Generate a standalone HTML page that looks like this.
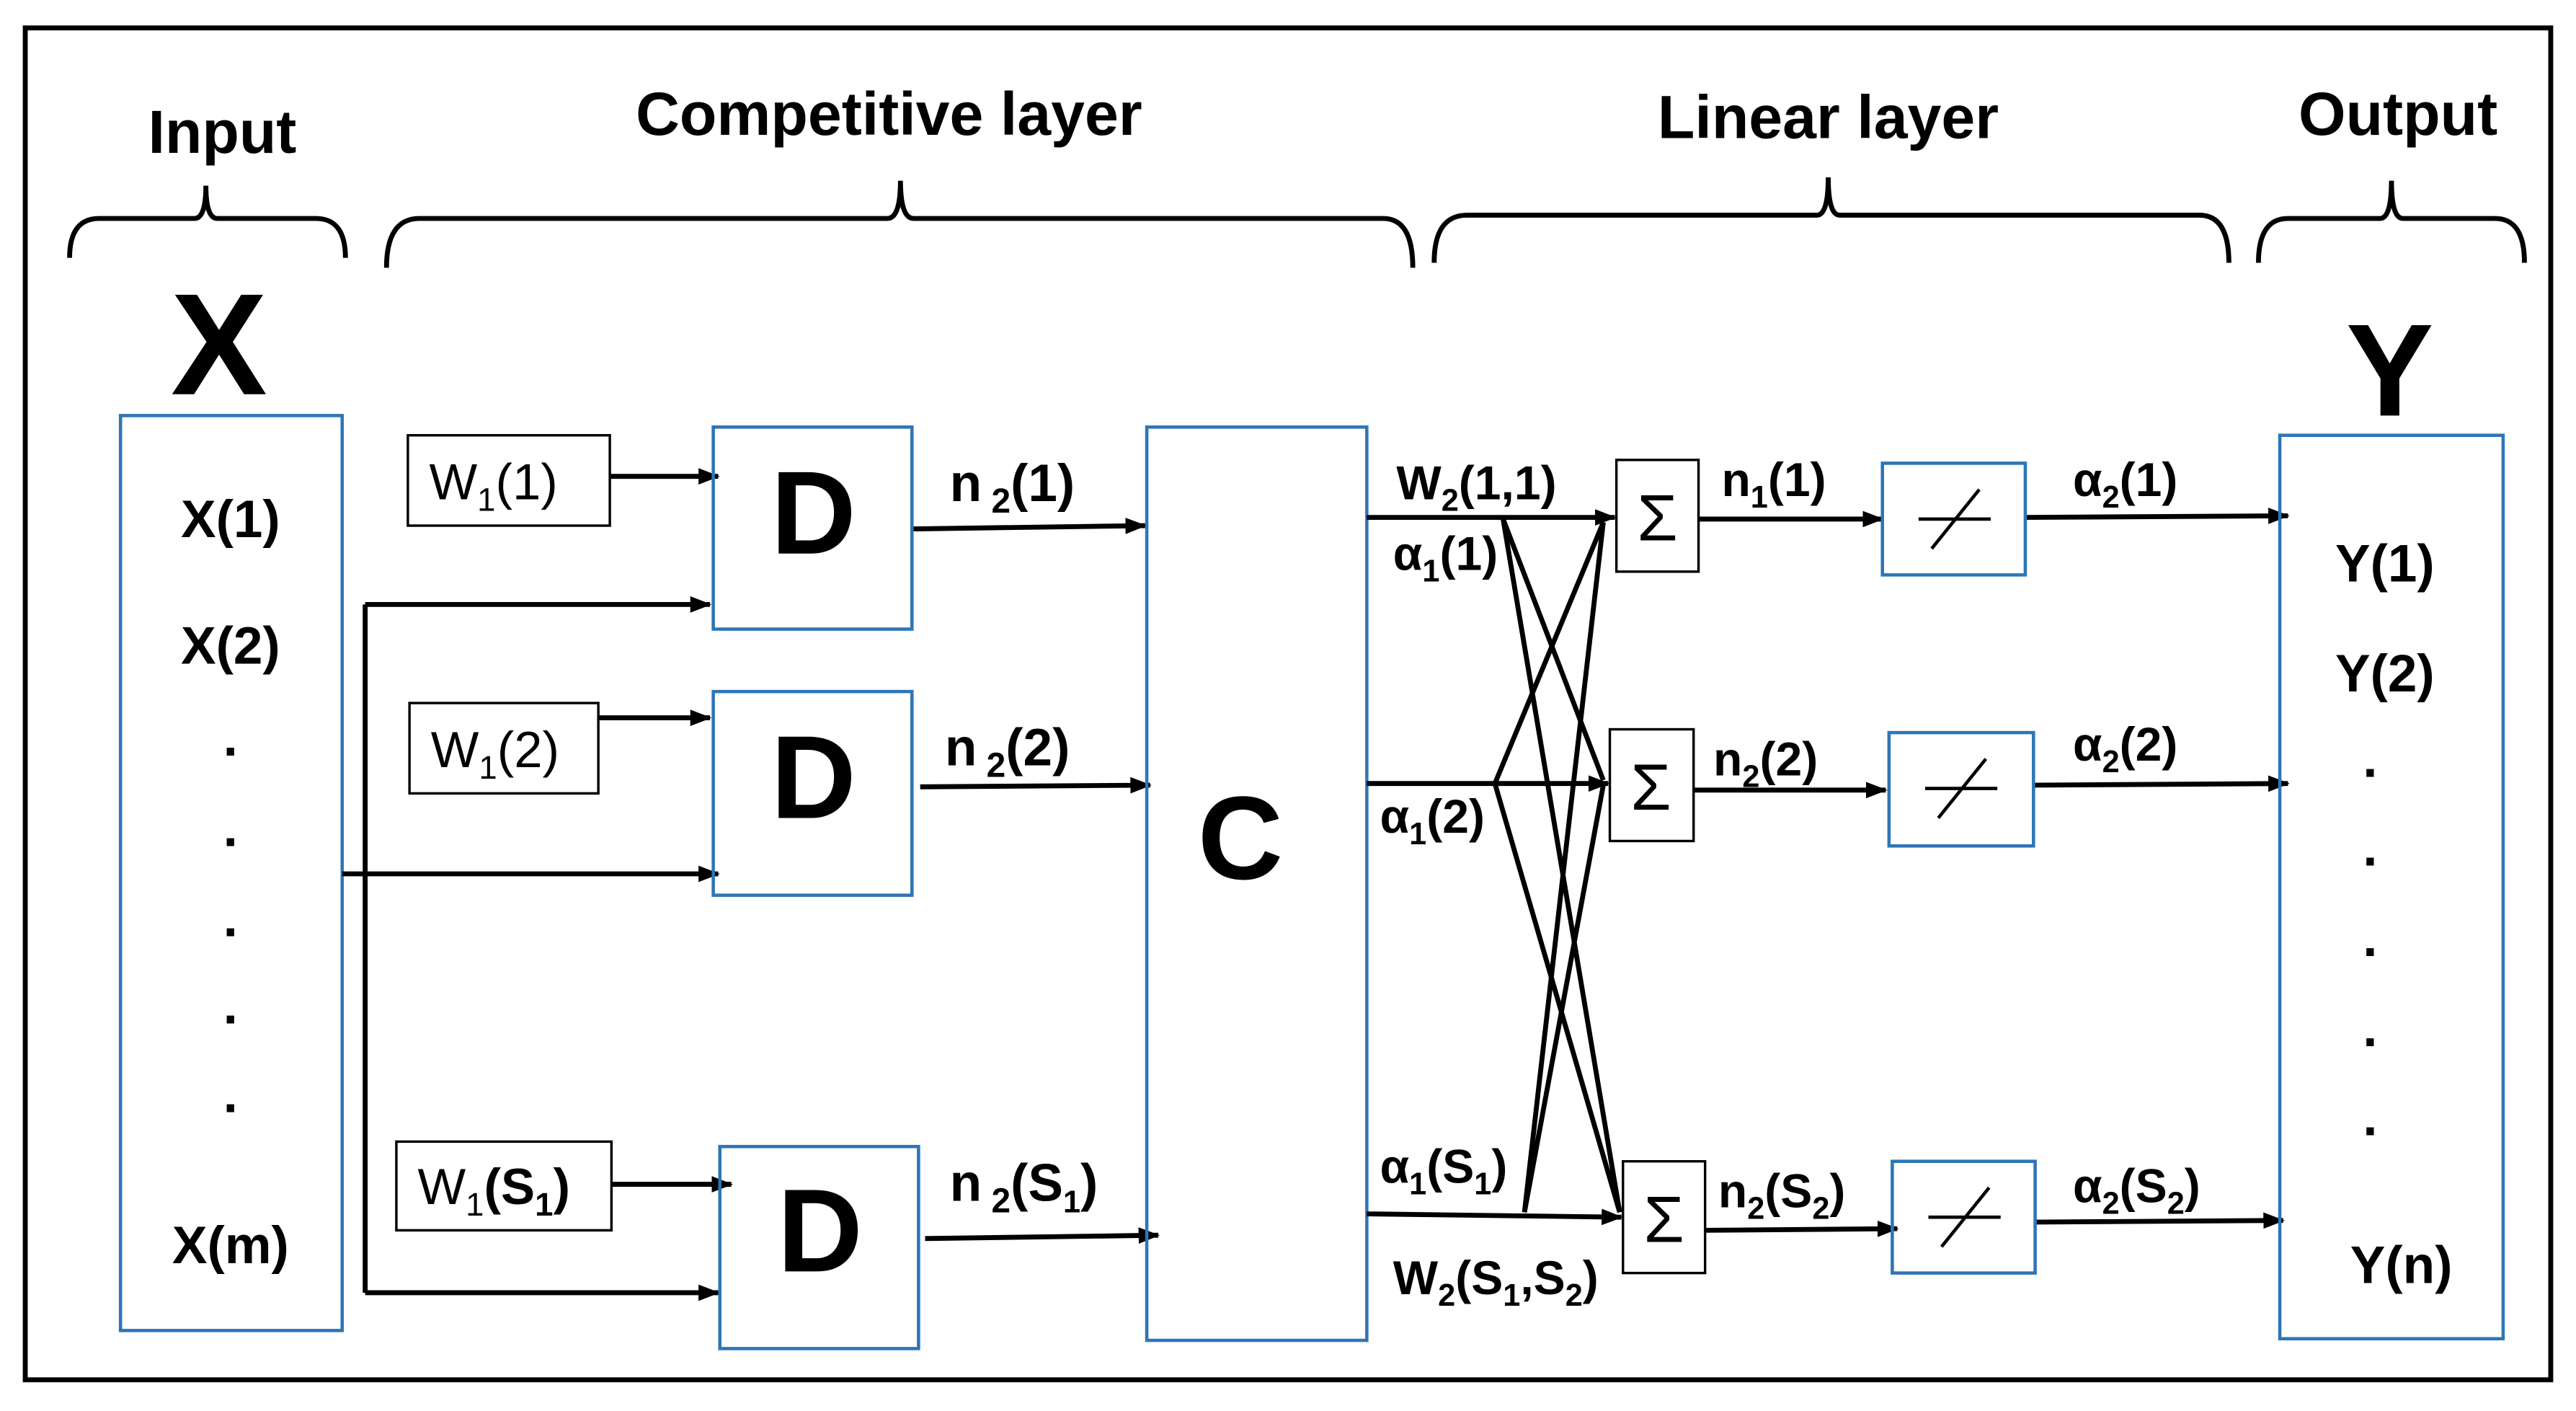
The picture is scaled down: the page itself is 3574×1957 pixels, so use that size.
<!DOCTYPE html>
<html><head><meta charset="utf-8"><style>
html,body{margin:0;padding:0;background:#fff;}
svg{display:block;}
text{font-family:"Liberation Sans",sans-serif;fill:#000;}
.b{font-weight:bold;}
</style></head><body>
<svg width="3574" height="1957" viewBox="0 0 1568 859" xmlns="http://www.w3.org/2000/svg">
<defs><marker id="a" markerWidth="13" markerHeight="10" refX="12" refY="5" orient="auto" markerUnits="userSpaceOnUse"><path d="M0,0 L13,5 L0,10 z" fill="#000"/></marker></defs>
<rect x="0" y="0" width="1568" height="859" fill="#fff"/>
<rect x="15" y="17" width="1538" height="823" fill="none" stroke="#000" stroke-width="3"/>
<g font-size="37" text-anchor="middle">
<text x="135" y="93" class="b">Input</text>
<text x="541" y="82" class="b">Competitive layer</text>
<text x="1113" y="84" class="b">Linear layer</text>
<text x="1460" y="82" class="b">Output</text>
</g>
<g fill="none" stroke="#000" stroke-width="3">
<path d="M42,157 Q42,133 60,133 L118,133 Q125,133 125,113 Q125,133 132,133 L192,133 Q210,133 210,157"/>
<path d="M235,163 Q235,133 255,133 L540,133 Q548,133 548,110 Q548,133 556,133 L842,133 Q860,133 860,163"/>
<path d="M873,160 Q873,131 893,131 L1106,131 Q1113,131 1113,108 Q1113,131 1120,131 L1339,131 Q1357,131 1357,160"/>
<path d="M1375,160 Q1375,133 1393,133 L1449,133 Q1456,133 1456,110 Q1456,133 1463,133 L1519,133 Q1537,133 1537,160"/>
</g>
<text x="133" y="240" font-size="88" text-anchor="middle" class="b">X</text>
<rect x="73" y="253" width="135" height="557" fill="none" stroke="#2e75b6" stroke-width="2"/>
<g font-size="32" text-anchor="middle">
<text x="140" y="327" class="b">X(1)</text>
<text x="140" y="404" class="b">X(2)</text>
<text x="140" y="460" class="b">.</text><text x="140" y="515" class="b">.</text><text x="140" y="570" class="b">.</text><text x="140" y="623" class="b">.</text><text x="140" y="677" class="b">.</text>
<text x="140" y="769" class="b">X(m)</text>
</g>
<g stroke="#000" stroke-width="3" fill="none">
<line x1="222" y1="368" x2="222" y2="787"/>
<line x1="222" y1="368" x2="432" y2="368" marker-end="url(#a)"/>
<line x1="208" y1="532" x2="437" y2="532" marker-end="url(#a)"/>
<line x1="222" y1="787" x2="437" y2="787" marker-end="url(#a)"/>
<line x1="371" y1="290" x2="437" y2="290" marker-end="url(#a)"/>
<line x1="364" y1="437" x2="432" y2="437" marker-end="url(#a)"/>
<line x1="372" y1="721" x2="445" y2="721" marker-end="url(#a)"/>
<line x1="555" y1="322" x2="697" y2="320" marker-end="url(#a)"/>
<line x1="560" y1="479" x2="700" y2="478" marker-end="url(#a)"/>
<line x1="563" y1="754" x2="705" y2="752" marker-end="url(#a)"/>
</g>
<g fill="none" stroke="#000" stroke-width="1.5">
<rect x="248" y="265" width="123" height="55"/>
<rect x="249" y="428" width="115" height="55"/>
<rect x="241" y="695" width="131" height="54"/>
</g>
<g font-size="31">
<text x="261" y="304">W<tspan font-size="20" dy="7">1</tspan><tspan dy="-7">(1)</tspan></text>
<text x="262" y="467">W<tspan font-size="20" dy="7">1</tspan><tspan dy="-7">(2)</tspan></text>
<text x="254" y="733">W<tspan font-size="20" dy="7">1</tspan><tspan dy="-7" class="b">(S</tspan><tspan font-size="20" dy="7" class="b">1</tspan><tspan dy="-7" class="b">)</tspan></text>
</g>
<g fill="none" stroke="#2e75b6" stroke-width="2">
<rect x="434" y="260" width="121" height="123"/>
<rect x="434" y="421" width="121" height="124"/>
<rect x="438" y="698" width="121" height="123"/>
<rect x="698" y="260" width="134" height="556"/>
</g>
<g font-size="72" text-anchor="middle">
<text x="495" y="337" class="b">D</text>
<text x="495" y="498" class="b">D</text>
<text x="499" y="774" class="b">D</text>
<text x="755" y="535" class="b">C</text>
</g>
<g font-size="32">
<text x="578" y="305" class="b">n<tspan font-size="21" dy="7"> 2</tspan><tspan dy="-7">(1)</tspan></text>
<text x="575" y="466" class="b">n<tspan font-size="21" dy="7"> 2</tspan><tspan dy="-7">(2)</tspan></text>
<text x="578" y="731" class="b">n<tspan font-size="21" dy="7"> 2</tspan><tspan dy="-7">(S</tspan><tspan font-size="19" dy="7">1</tspan><tspan dy="-7">)</tspan></text>
</g>
<g stroke="#000" stroke-width="3" fill="none">
<line x1="832" y1="315" x2="983" y2="315" marker-end="url(#a)"/>
<line x1="832" y1="477" x2="979" y2="477" marker-end="url(#a)"/>
<line x1="832" y1="739" x2="987" y2="741" marker-end="url(#a)"/>
<line x1="915" y1="316" x2="976" y2="475"/>
<line x1="915" y1="316" x2="986" y2="738"/>
<line x1="910" y1="477" x2="976" y2="318"/>
<line x1="910" y1="477" x2="986" y2="738"/>
<line x1="928" y1="738" x2="976" y2="318"/>
<line x1="928" y1="738" x2="976" y2="478"/>
<line x1="1034" y1="316" x2="1146" y2="316" marker-end="url(#a)"/>
<line x1="1031" y1="481" x2="1148" y2="481" marker-end="url(#a)"/>
<line x1="1038" y1="749" x2="1155" y2="748" marker-end="url(#a)"/>
<line x1="1233" y1="315" x2="1393" y2="314" marker-end="url(#a)"/>
<line x1="1238" y1="478" x2="1393" y2="477" marker-end="url(#a)"/>
<line x1="1239" y1="744" x2="1390" y2="743" marker-end="url(#a)"/>
</g>
<g font-size="29">
<text x="850" y="304" class="b">W<tspan font-size="19" dy="7">2</tspan><tspan dy="-7">(1,1)</tspan></text>
<text x="848" y="347" class="b">α<tspan font-size="19" dy="7">1</tspan><tspan dy="-7">(1)</tspan></text>
<text x="840" y="507" class="b">α<tspan font-size="19" dy="7">1</tspan><tspan dy="-7">(2)</tspan></text>
<text x="840" y="720" class="b">α<tspan font-size="19" dy="7">1</tspan><tspan dy="-7">(S</tspan><tspan font-size="19" dy="7">1</tspan><tspan dy="-7">)</tspan></text>
<text x="848" y="788" class="b">W<tspan font-size="19" dy="7">2</tspan><tspan dy="-7">(S</tspan><tspan font-size="19" dy="7">1</tspan><tspan dy="-7">,S</tspan><tspan font-size="19" dy="7">2</tspan><tspan dy="-7">)</tspan></text>
<text x="1048" y="302" class="b">n<tspan font-size="19" dy="7">1</tspan><tspan dy="-7">(1)</tspan></text>
<text x="1043" y="472" class="b">n<tspan font-size="19" dy="7">2</tspan><tspan dy="-7">(2)</tspan></text>
<text x="1046" y="735" class="b">n<tspan font-size="19" dy="7">2</tspan><tspan dy="-7">(S</tspan><tspan font-size="19" dy="7">2</tspan><tspan dy="-7">)</tspan></text>
<text x="1262" y="302" class="b">α<tspan font-size="19" dy="7">2</tspan><tspan dy="-7">(1)</tspan></text>
<text x="1262" y="463" class="b">α<tspan font-size="19" dy="7">2</tspan><tspan dy="-7">(2)</tspan></text>
<text x="1262" y="732" class="b">α<tspan font-size="19" dy="7">2</tspan><tspan dy="-7">(S</tspan><tspan font-size="19" dy="7">2</tspan><tspan dy="-7">)</tspan></text>
</g>
<g fill="#fff" stroke="#000" stroke-width="1.5">
<rect x="984" y="280" width="50" height="68"/>
<rect x="980" y="444" width="51" height="68"/>
<rect x="988" y="707" width="50" height="68"/>
</g>
<g font-size="40" text-anchor="middle">
<text x="1009" y="329">Σ</text>
<text x="1005" y="493">Σ</text>
<text x="1013" y="756">Σ</text>
</g>
<g fill="none" stroke="#2e75b6" stroke-width="2">
<rect x="1146" y="282" width="87" height="68"/>
<rect x="1150" y="446" width="88" height="69"/>
<rect x="1152" y="707" width="87" height="68"/>
</g>
<g stroke="#000" stroke-width="2">
<line x1="1168" y1="316" x2="1212" y2="316"/><line x1="1176" y1="334" x2="1205" y2="298"/>
<line x1="1172" y1="480" x2="1216" y2="480"/><line x1="1180" y1="498" x2="1209" y2="462"/>
<line x1="1174" y1="741" x2="1218" y2="741"/><line x1="1182" y1="759" x2="1211" y2="723"/>
</g>
<text x="1455" y="253" font-size="80" text-anchor="middle" class="b">Y</text>
<rect x="1388" y="265" width="136" height="550" fill="none" stroke="#2e75b6" stroke-width="2"/>
<g font-size="32" text-anchor="middle">
<text x="1452" y="354" class="b">Y(1)</text>
<text x="1452" y="421" class="b">Y(2)</text>
<text x="1443" y="473" class="b">.</text><text x="1443" y="527" class="b">.</text><text x="1443" y="582" class="b">.</text><text x="1443" y="637" class="b">.</text><text x="1443" y="691" class="b">.</text>
<text x="1462" y="781" class="b">Y(n)</text>
</g>
</svg>
</body></html>
